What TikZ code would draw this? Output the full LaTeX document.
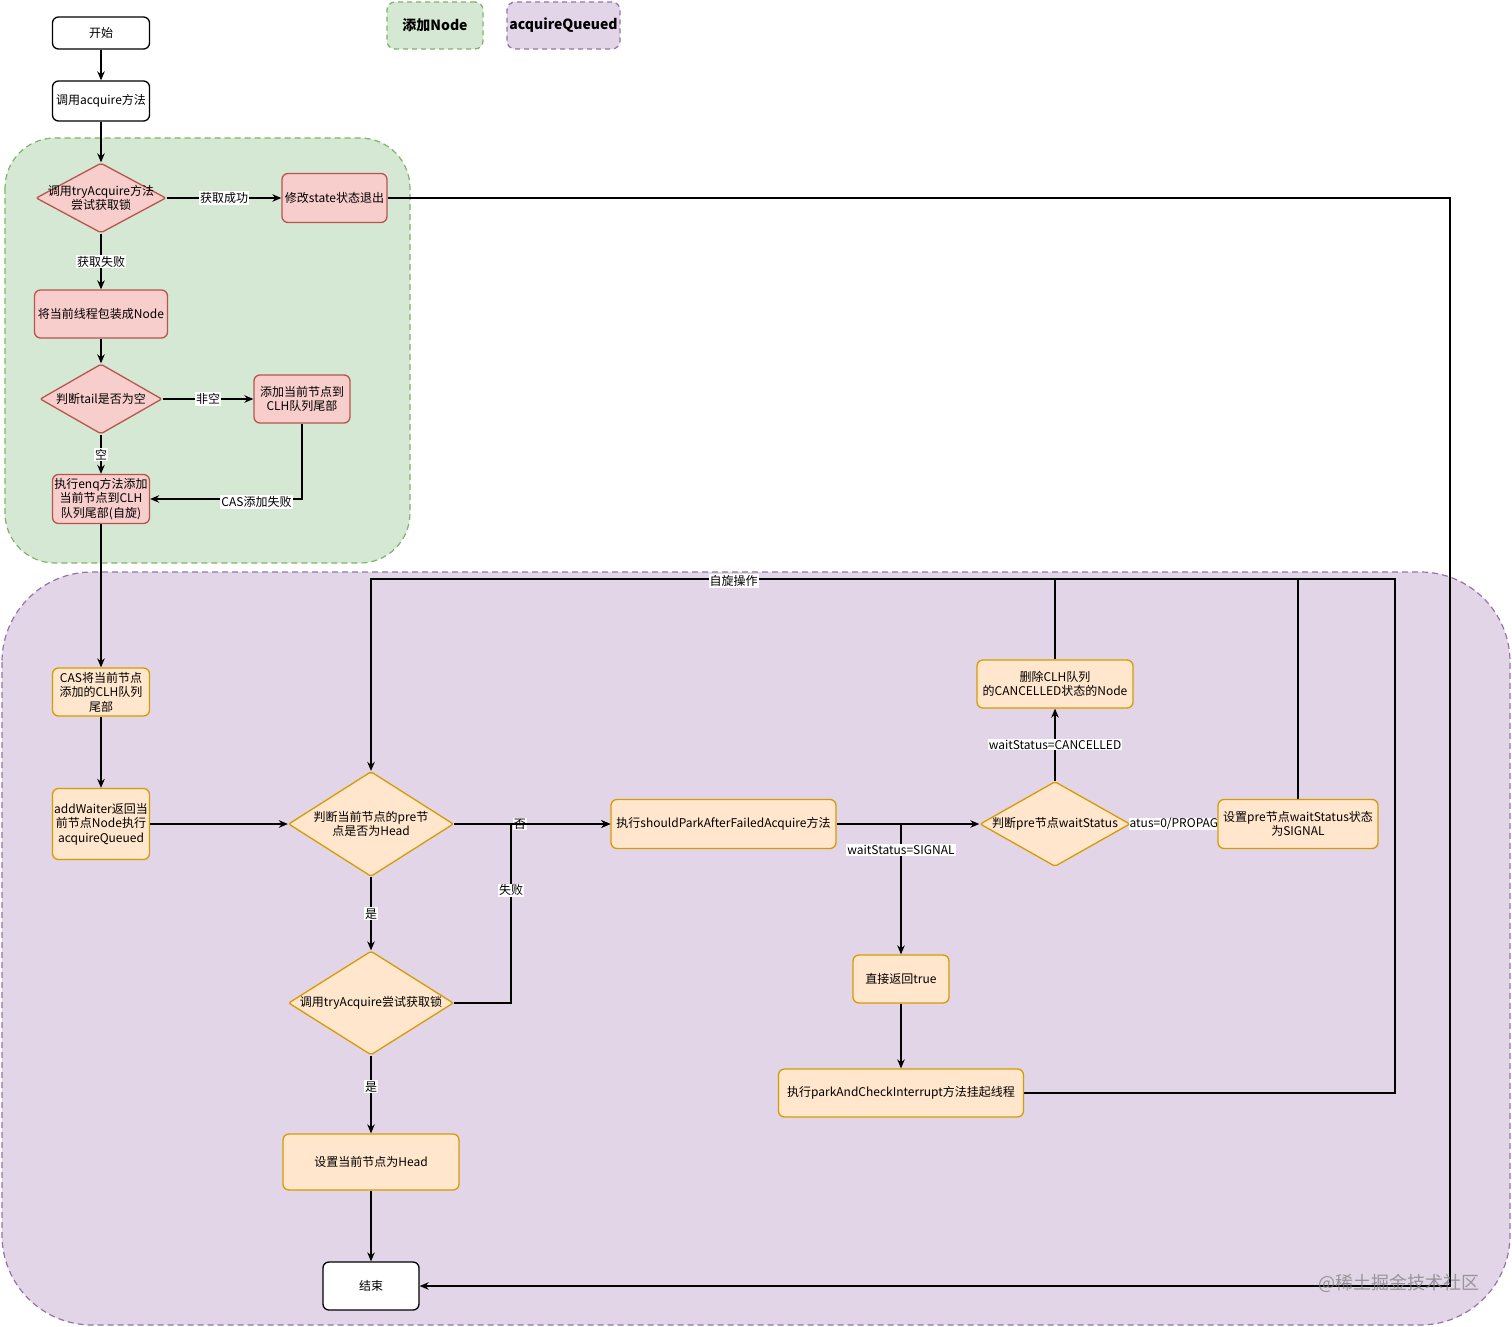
\documentclass[tikz,border=0pt]{standalone}
\usepackage{fontspec}
\setmainfont{Noto Sans CJK SC}
\usetikzlibrary{shapes.geometric,arrows.meta}
\pgfdeclarelayer{bg}
\pgfdeclarelayer{edges}
\pgfsetlayers{bg,edges,main}
\definecolor{grF}{HTML}{D5E8D4}
\definecolor{grD}{HTML}{82B366}
\definecolor{puF}{HTML}{E1D5E7}
\definecolor{puD}{HTML}{9673A6}
\definecolor{reF}{HTML}{F8CECC}
\definecolor{reD}{HTML}{B85450}
\definecolor{orF}{HTML}{FFE6CC}
\definecolor{orD}{HTML}{D79B00}
\newcommand\fsz{\fontsize{12}{14.5}\selectfont}
\tikzset{
  base/.style={draw, line width=1.3pt, rounded corners=6pt, inner sep=0pt, align=center, font=\fsz},
  wbox/.style={base, fill=white, draw=black},
  rbox/.style={base, fill=reF, draw=reD},
  obox/.style={base, fill=orF, draw=orD},
  rdia/.style={diamond, draw=reD, fill=reF, line width=1.3pt, inner sep=0pt, rounded corners=2pt},
  odia/.style={diamond, draw=orD, fill=orF, line width=1.3pt, inner sep=0pt, rounded corners=2pt},
  txt/.style={align=center, font=\fsz, inner sep=0pt},
  lbl/.style={fill=white, inner sep=1pt, font=\fsz},
  arr/.style={-{Stealth[length=9pt,width=7.5pt]}, line width=1.3pt},
  conn/.style={line width=1.3pt},
  legendbox/.style={draw, dashed, dash pattern=on 5pt off 4pt, line width=1.3pt, rounded corners=8pt, inner sep=0pt, font=\fontsize{14}{16}\selectfont\bfseries},
  grp/.style={dashed, dash pattern=on 6pt off 4pt, line width=1.2pt}
}
\begin{document}
\begin{tikzpicture}[x=1pt,y=-1pt]
\useasboundingbox (0,0) rectangle (1512,1327);
\begin{pgfonlayer}{bg}
\fill[white] (0,0) rectangle (1512,1327);
\draw[grp, fill=grF, draw=grD, rounded corners=50pt] (5,138) rectangle (410,563);
\draw[grp, fill=puF, draw=puD, rounded corners=90pt] (2,572) rectangle (1510,1325);
\end{pgfonlayer}

% legend
\node[legendbox, fill=grF, draw=grD, minimum width=96, minimum height=47] (lg1) at (435,25.5) {添加Node};
\node[legendbox, fill=puF, draw=puD, minimum width=113, minimum height=47] (lg2) at (563.5,25.5) {acquireQueued};

% nodes
\node[wbox, minimum width=97, minimum height=32] (st) at (101,33) {开始};
\node[wbox, minimum width=97, minimum height=40] (acq) at (101,101) {调用acquire方法};
\node[rdia, minimum width=130, minimum height=70] (d1) at (101,198) {};
\node[txt] (d1t) at (d1) {调用tryAcquire方法\\尝试获取锁};
\node[rbox, minimum width=105, minimum height=49] (exit) at (334.5,198) {修改state状态退出};
\node[rbox, minimum width=133, minimum height=48] (wrap) at (101,314) {将当前线程包装成Node};
\node[rdia, minimum width=122, minimum height=70] (d2) at (101,399) {};
\node[txt] (d2t) at (d2) {判断tail是否为空};
\node[rbox, minimum width=96, minimum height=48] (addT) at (302,399) {添加当前节点到\\CLH队列尾部};
\node[rbox, minimum width=97, minimum height=49] (enq) at (101,499) {执行enq方法添加\\当前节点到CLH\\队列尾部(自旋)};
\node[obox, minimum width=97, minimum height=48] (casT) at (101,692) {CAS将当前节点\\添加的CLH队列\\尾部};
\node[obox, minimum width=97, minimum height=71] (addW) at (101,824) {addWaiter返回当\\前节点Node执行\\acquireQueued};
\node[odia, minimum width=165, minimum height=105] (d3) at (371,824) {};
\node[txt] (d3t) at (d3) {判断当前节点的pre节\\点是否为Head};
\node[odia, minimum width=165, minimum height=104] (d4) at (371,1003) {};
\node[txt] (d4t) at (d4) {调用tryAcquire尝试获取锁};
\node[obox, minimum width=176, minimum height=56] (setH) at (371,1162) {设置当前节点为Head};
\node[wbox, minimum width=96, minimum height=48] (fin) at (371,1286) {结束};
\node[obox, minimum width=225, minimum height=49] (should) at (723.5,824) {执行shouldParkAfterFailedAcquire方法};
\node[odia, minimum width=150, minimum height=85] (d5) at (1055,824) {};
\node[txt] (d5t) at (d5) {判断pre节点waitStatus};
\node[obox, minimum width=156, minimum height=48] (del) at (1055,684) {删除CLH队列\\的CANCELLED状态的Node};
\node[obox, minimum width=160, minimum height=49] (sig) at (1298,824) {设置pre节点waitStatus状态\\为SIGNAL};
\node[obox, minimum width=96, minimum height=48] (ret) at (901,979) {直接返回true};
\node[obox, minimum width=245, minimum height=48] (park) at (901,1093) {执行parkAndCheckInterrupt方法挂起线程};

\coordinate (jf) at (511,824);
\coordinate (lpR) at (1395,579);
\coordinate (eR) at (1450,198);

\begin{pgfonlayer}{edges}
\draw[arr] (st) -- (acq);
\draw[arr] (acq) -- (d1);
\draw[arr] (d1) -- node[lbl]{获取成功} (exit);
\draw[arr] (d1) -- node[lbl]{获取失败} (wrap);
\draw[arr] (wrap) -- (d2);
\draw[arr] (d2) -- node[lbl]{非空} (addT);
\draw[arr] (d2) -- node[lbl]{空} (enq);
\draw[arr] (addT) |- node[lbl,pos=0.65,yshift=-3pt]{CAS添加失败} (enq);
\draw[arr] (enq) -- (casT);
\draw[arr] (casT) -- (addW);
\draw[arr] (addW) -- (d3);
\draw[arr] (d3) -- node[lbl,pos=0.42]{否} (should);
\draw[arr] (d3) -- node[lbl]{是} (d4);
\draw[arr] (d4) -| node[lbl,pos=0.815]{失败} (jf) -- (should);
\draw[arr] (d4) -- node[lbl,pos=0.4]{是} (setH);
\draw[arr] (setH) -- (fin);
\draw[arr] (should) -- (d5);
\draw[arr] (should) -| node[lbl,pos=0.6]{waitStatus=SIGNAL} (ret);
\draw[arr] (ret) -- (park);
\draw[arr] (park) -| (lpR) -| node[lbl,pos=0.323,yshift=-2pt]{自旋操作} (d3);
\draw[arr] (d5) -- node[lbl]{waitStatus=CANCELLED} (del);
\draw[conn] (del) -- (del.north |- lpR);
\draw[arr] (d5) -- node[lbl,pos=0.54,inner sep=0.5pt]{atus=0/PROPAGA} (sig);
\draw[conn] (sig) -- (sig.north |- lpR);
\draw[arr] (exit) -- (eR) |- (fin);
\end{pgfonlayer}

\node[font=\fontsize{18}{20}\selectfont, text=gray, opacity=0.75, inner sep=0pt] (wm) at (1399,1283) {@稀土掘金技术社区};
\end{tikzpicture}
\end{document}
